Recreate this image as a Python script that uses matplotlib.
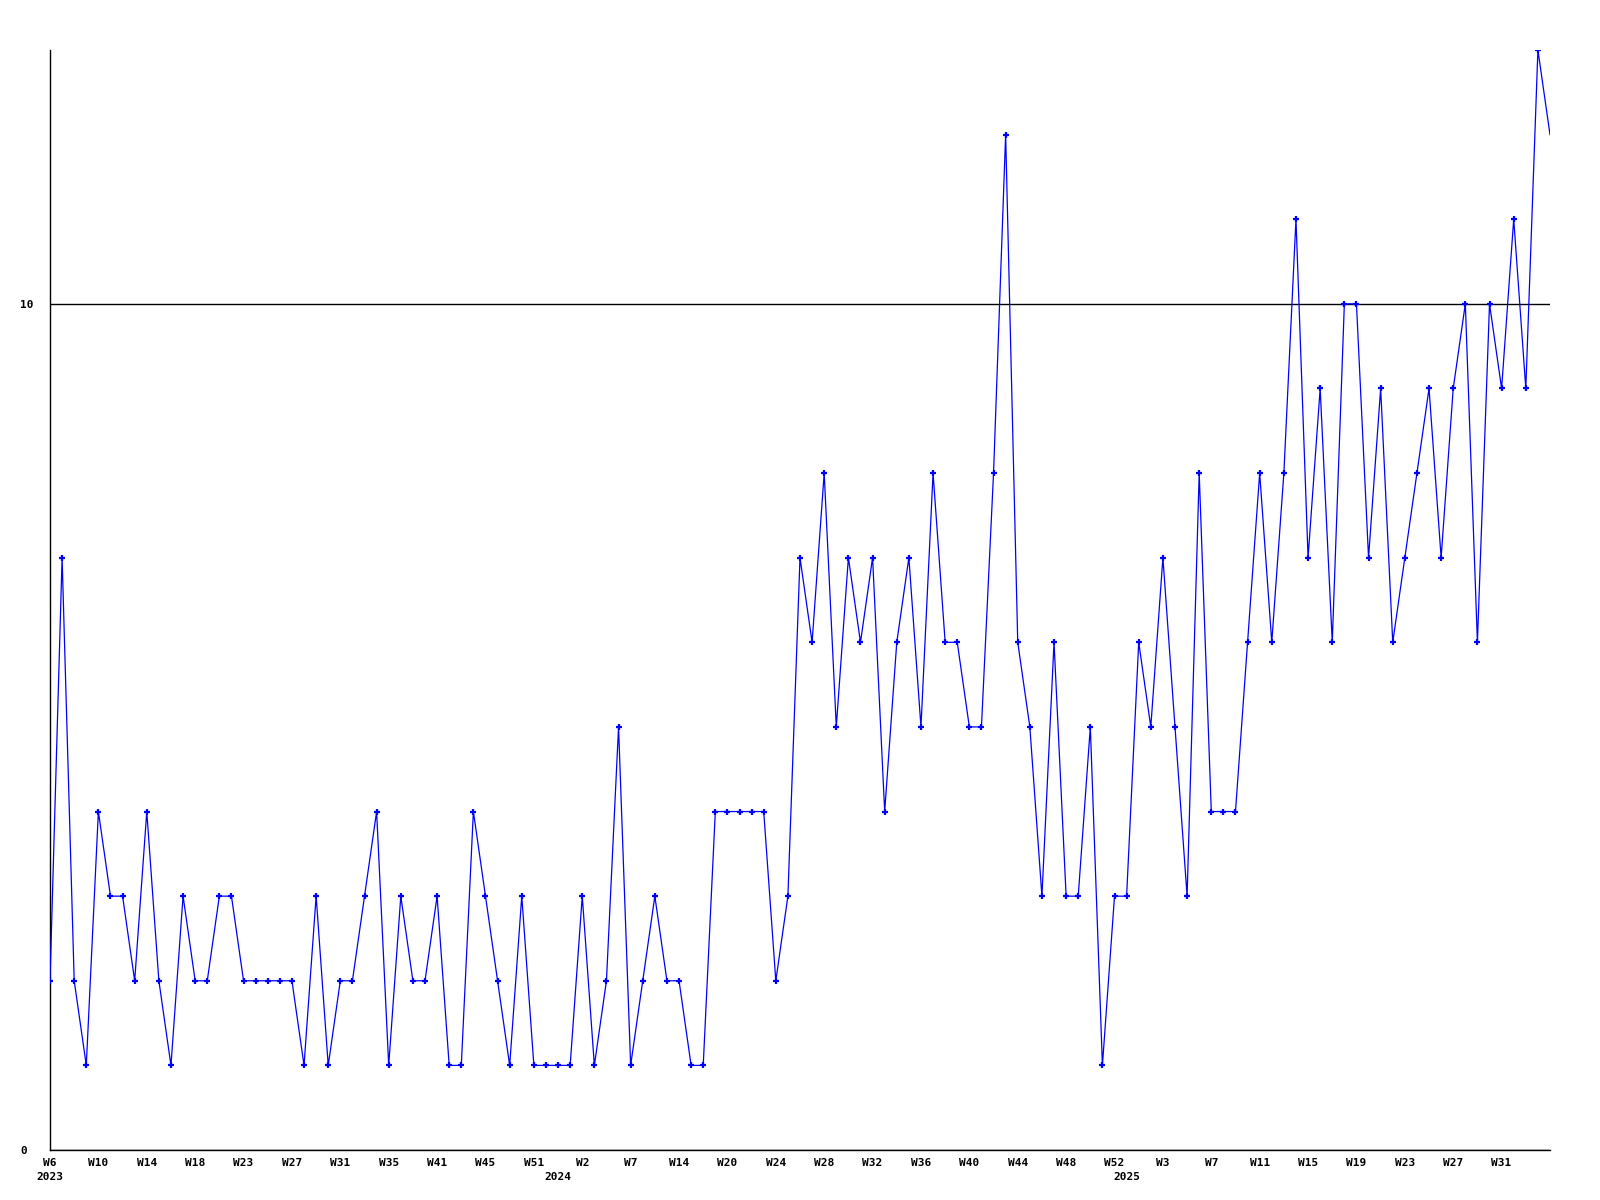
import matplotlib
matplotlib.use("Agg")
import matplotlib.pyplot as plt

# weekly values (one per plotted point)
values = [2, 7, 2, 1, 4, 3, 3, 2, 4, 2,
          1, 3, 2, 2, 3, 3, 2, 2, 2, 2,
          2, 1, 3, 1, 2, 2, 3, 4, 1, 3,
          2, 2, 3, 1, 1, 4, 3, 2, 1, 3,
          1, 1, 1, 1, 3, 1, 2, 5, 1, 2,
          3, 2, 2, 1, 1, 4, 4, 4, 4, 4,
          2, 3, 7, 6, 8, 5, 7, 6, 7, 4,
          6, 7, 5, 8, 6, 6, 5, 5, 8, 12,
          6, 5, 3, 6, 3, 3, 5, 1, 3, 3,
          6, 5, 7, 5, 3, 8, 4, 4, 4, 6,
          8, 6, 8, 11, 7, 9, 6, 10, 10, 7,
          9, 6, 7, 8, 9, 7, 9, 10, 6, 10,
          9, 11, 9, 13, 12]

# tick labels (every 4th point)
week_labels = ["W6", "W10", "W14", "W18", "W23", "W27", "W31", "W35", "W41", "W45",
               "W51", "W2", "W7", "W14", "W20", "W24", "W28", "W32", "W36", "W40",
               "W44", "W48", "W52", "W3", "W7", "W11", "W15", "W19", "W23", "W27", "W31"]
# year labels and the index of the point where each year starts
years = ["2023", "2024", "2025"]
year_start_idx = [0, 42, 89]
y_ticks = [0, 10]

x = list(range(len(values)))
tick_pos = x[::4][:len(week_labels)]

font = dict(family="DejaVu Sans Mono", weight="bold", size=8)

fig = plt.figure(figsize=(16, 12), dpi=100)
ax = fig.add_axes([50/1600, 50/1200, 1500/1600, 1100/1200])

ax.plot(x, values, color="#0000ff", lw=0.9, zorder=3)
ax.plot(x[:-1], values[:-1], linestyle="none", color="#0000ff",
        marker="+", ms=5, mew=1.6, zorder=4)

ax.set_xlim(0, len(values) - 1)
ax.set_ylim(0, 13)

ax.set_yticks(y_ticks)
ax.set_yticklabels([str(v) for v in y_ticks], fontdict=font)
ax.yaxis.grid(True, color="black", lw=1)
ax.set_axisbelow(True)
ax.tick_params(axis="y", length=0, pad=21.6)
for lab in ax.get_yticklabels():
    lab.set_horizontalalignment("left")

ax.xaxis.remove_overlapping_locs = False
ax.set_xticks(tick_pos)
ax.set_xticklabels(week_labels, fontdict=font)
ax.set_xticks(year_start_idx, minor=True)
ax.set_xticklabels(years, fontdict=font, minor=True)
ax.tick_params(axis="x", which="major", length=0, pad=5.5)
ax.tick_params(axis="x", which="minor", length=0, pad=16)

for s in ["top", "right"]:
    ax.spines[s].set_visible(False)
for s in ["left", "bottom"]:
    ax.spines[s].set_color("black")
    ax.spines[s].set_linewidth(1)

fig.savefig("out.png", dpi=100, facecolor="white")
